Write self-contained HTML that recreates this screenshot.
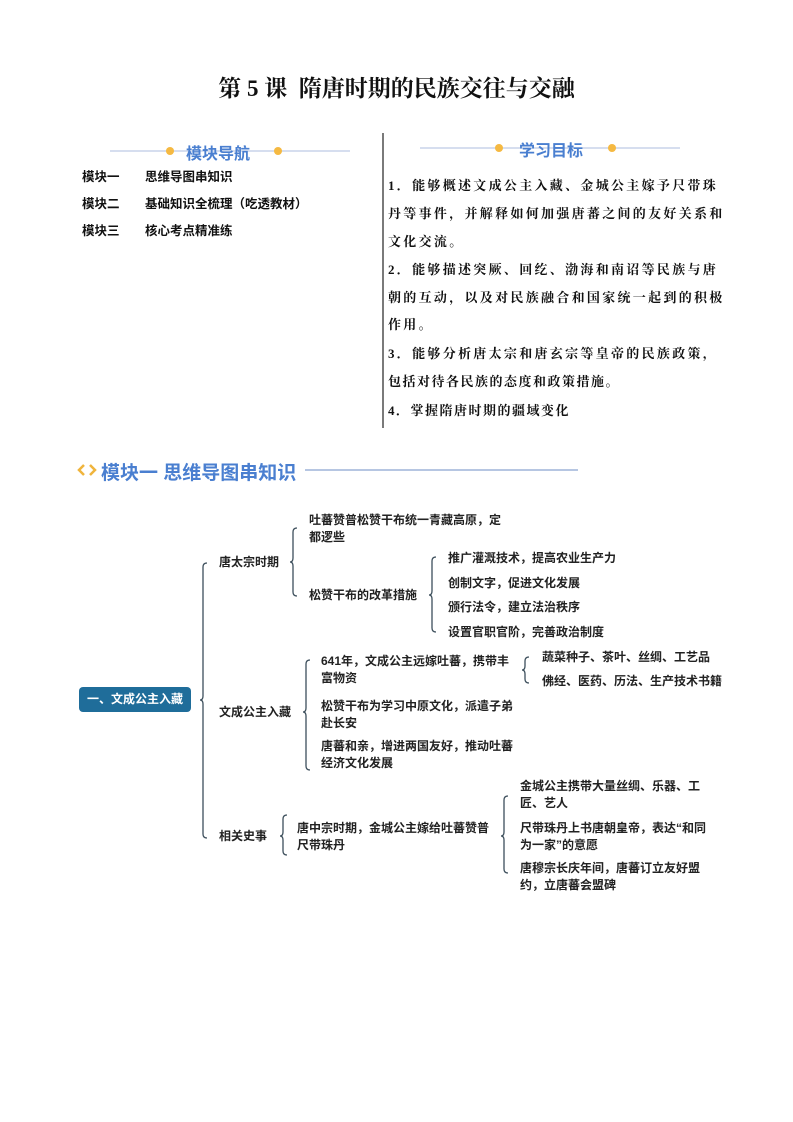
<!DOCTYPE html>
<html><head><meta charset="utf-8"><style>
body{margin:0;background:#fff;}
#p{position:relative;width:793px;height:1122px;overflow:hidden;font-family:"Liberation Sans","Noto Sans CJK SC",sans-serif;}
.a{position:absolute;white-space:nowrap;}
.t{position:absolute;white-space:nowrap;font-size:12px;line-height:17px;color:#222;font-weight:bold;}
.obj{position:absolute;left:388px;font-family:"Liberation Serif","Noto Serif CJK SC",serif;font-weight:bold;font-size:13px;color:#111;white-space:nowrap;}
</style></head><body><div id="p">
<div class="a" style="left:0;width:793px;top:70px;text-align:center;font-family:'Liberation Serif','Noto Serif CJK SC',serif;font-weight:bold;font-size:23px;color:#111;">第 5 课&nbsp;&nbsp;隋唐时期的民族交往与交融</div>

<svg class="a" style="left:0;top:0" width="793" height="1122">
<line x1="110" y1="151" x2="350" y2="151" stroke="#c8d4ea" stroke-width="1.5"/>
<circle cx="170" cy="151" r="4" fill="#f5b942"/><circle cx="278" cy="151" r="4" fill="#f5b942"/>
<line x1="420" y1="148" x2="680" y2="148" stroke="#c8d4ea" stroke-width="1.5"/>
<circle cx="499" cy="148" r="4" fill="#f5b942"/><circle cx="612" cy="148" r="4" fill="#f5b942"/>
<line x1="383" y1="133" x2="383" y2="428" stroke="#222" stroke-width="1.2"/>
<line x1="305" y1="470" x2="578" y2="470" stroke="#9db3d8" stroke-width="1.5"/>
<path d="M84 465 L79 470 L84 475 M90 465 L95 470 L90 475" stroke="#f0b43c" stroke-width="2.5" fill="none"/>
<g stroke="#3d4f5c" stroke-width="1.3" fill="none">
<path d="M207 563 Q203 563 203 567 L203 696 Q203 700 200 700 Q203 700 203 704 L203 834 Q203 838 207 838"/>
<path d="M297 528 Q293 528 293 532 L293 558 Q293 562 290 562 Q293 562 293 566 L293 592 Q293 596 297 596"/>
<path d="M436 557 Q432 557 432 561 L432 591 Q432 595 429 595 Q432 595 432 599 L432 628 Q432 632 436 632"/>
<path d="M310 660 Q306 660 306 664 L306 708 Q306 712 303 712 Q306 712 306 716 L306 766 Q306 770 310 770"/>
<path d="M529 657 Q525 657 525 661 L525 666 Q525 670 522 670 Q525 670 525 674 L525 679 Q525 683 529 683"/>
<path d="M287 815 Q283 815 283 819 L283 832 Q283 836 280 836 Q283 836 283 840 L283 851 Q283 855 287 855"/>
<path d="M508 796 Q504 796 504 800 L504 832 Q504 836 501 836 Q504 836 504 840 L504 869 Q504 873 508 873"/>
</g>
</svg>

<div class="a" style="left:186px;top:140px;font-size:16px;font-weight:bold;color:#4a7fd0;">模块导航</div>
<div class="a" style="left:519px;top:137px;font-size:16px;font-weight:bold;color:#4a7fd0;">学习目标</div>

<div class="a" style="left:82px;top:169px;font-size:12.5px;font-weight:bold;color:#111;line-height:17px;">模块一<span style="position:absolute;left:63px">思维导图串知识</span></div>
<div class="a" style="left:82px;top:196px;font-size:12.5px;font-weight:bold;color:#111;line-height:17px;">模块二<span style="position:absolute;left:63px">基础知识全梳理（吃透教材）</span></div>
<div class="a" style="left:82px;top:223px;font-size:12.5px;font-weight:bold;color:#111;line-height:17px;">模块三<span style="position:absolute;left:63px">核心考点精准练</span></div>

<div class="obj" style="top:175px;letter-spacing:2.3px">1．能够概述文成公主入藏、金城公主嫁予尺带珠</div>
<div class="obj" style="top:203px;letter-spacing:2.3px">丹等事件，并解释如何加强唐蕃之间的友好关系和</div>
<div class="obj" style="top:231px;letter-spacing:2.3px">文化交流。</div>
<div class="obj" style="top:259px;letter-spacing:2.3px">2．能够描述突厥、回纥、渤海和南诏等民族与唐</div>
<div class="obj" style="top:287px;letter-spacing:2.3px">朝的互动，以及对民族融合和国家统一起到的积极</div>
<div class="obj" style="top:314px;letter-spacing:2.3px">作用。</div>
<div class="obj" style="top:343px;letter-spacing:2.3px">3．能够分析唐太宗和唐玄宗等皇帝的民族政策，</div>
<div class="obj" style="top:371px;letter-spacing:1.5px">包括对待各民族的态度和政策措施。</div>
<div class="obj" style="top:400px;letter-spacing:1.5px">4．掌握隋唐时期的疆域变化</div>

<div class="a" style="left:101px;top:458px;font-size:19px;font-weight:bold;color:#4a7fd0;">模块一 思维导图串知识</div>

<div class="a" style="left:79px;top:687px;width:112px;height:25px;background:#1f6d9a;border-radius:4px;color:#fff;font-size:12px;font-weight:bold;line-height:25px;text-align:center;">一、文成公主入藏</div>

<div class="t" style="left:219px;top:554px">唐太宗时期</div>
<div class="t" style="left:219px;top:704px">文成公主入藏</div>
<div class="t" style="left:219px;top:828px">相关史事</div>

<div class="t" style="left:309px;top:512px">吐蕃赞普松赞干布统一青藏高原，定<br>都逻些</div>
<div class="t" style="left:309px;top:587px">松赞干布的改革措施</div>
<div class="t" style="left:448px;top:550px">推广灌溉技术，提高农业生产力</div>
<div class="t" style="left:448px;top:575px">创制文字，促进文化发展</div>
<div class="t" style="left:448px;top:599px">颁行法令，建立法治秩序</div>
<div class="t" style="left:448px;top:624px">设置官职官阶，完善政治制度</div>

<div class="t" style="left:321px;top:653px">641年，文成公主远嫁吐蕃，携带丰<br>富物资</div>
<div class="t" style="left:321px;top:698px">松赞干布为学习中原文化，派遣子弟<br>赴长安</div>
<div class="t" style="left:321px;top:738px">唐蕃和亲，增进两国友好，推动吐蕃<br>经济文化发展</div>
<div class="t" style="left:542px;top:649px">蔬菜种子、茶叶、丝绸、工艺品</div>
<div class="t" style="left:542px;top:673px">佛经、医药、历法、生产技术书籍</div>

<div class="t" style="left:297px;top:820px">唐中宗时期，金城公主嫁给吐蕃赞普<br>尺带珠丹</div>
<div class="t" style="left:520px;top:778px">金城公主携带大量丝绸、乐器、工<br>匠、艺人</div>
<div class="t" style="left:520px;top:820px">尺带珠丹上书唐朝皇帝，表达“和同<br>为一家”的意愿</div>
<div class="t" style="left:520px;top:860px">唐穆宗长庆年间，唐蕃订立友好盟<br>约，立唐蕃会盟碑</div>
</div></body></html>
